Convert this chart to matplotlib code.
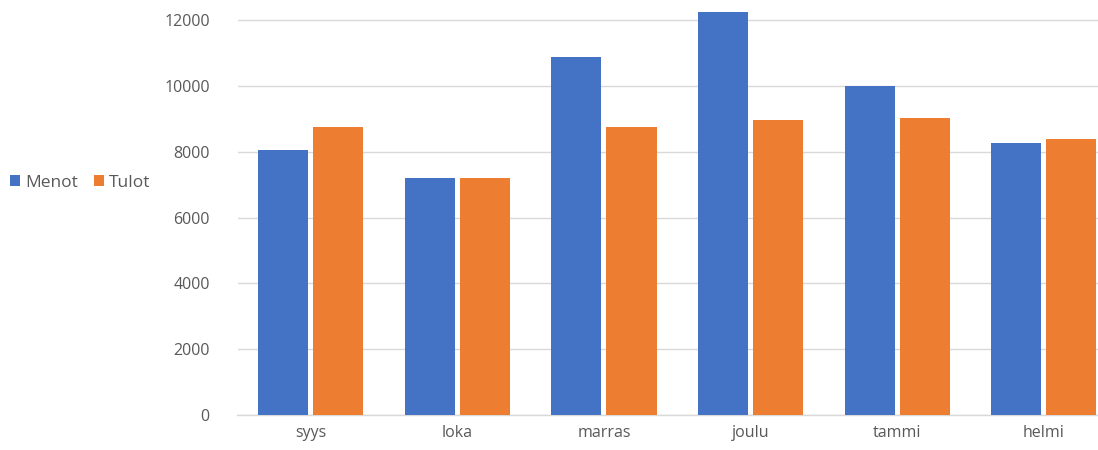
import matplotlib
matplotlib.use("Agg")
import matplotlib.pyplot as plt
import numpy as np
from matplotlib.patches import Patch

categories = ["syys", "loka", "marras", "joulu", "tammi", "helmi"]
menot = [8050, 7220, 10900, 12270, 10000, 8280]
tulot = [8750, 7220, 8750, 8980, 9030, 8380]
yticks = [0, 2000, 4000, 6000, 8000, 10000, 12000]

plt.rcParams['font.family'] = ['Open Sans', 'DejaVu Sans']
blue = "#4472C4"
orange = "#ED7D31"
txt = "#595959"

fig = plt.figure(figsize=(10.98, 4.5), dpi=100)
ax = fig.add_axes([237.5/1098, 35/450, (1117-237.5)/1098, (415-4)/450])

x = np.arange(len(categories))
w = 0.342
gap = 0.034
ax.bar(x - (w + gap)/2, menot, width=w, color=blue, zorder=3)
ax.bar(x + (w + gap)/2, tulot, width=w, color=orange, zorder=3)

ax.set_xlim(-0.5, len(categories) - 0.5)
ax.set_ylim(0, 12500)
ax.set_yticks(yticks)
ax.set_yticklabels([str(v) for v in yticks], fontsize=11.5, color=txt)
ax.set_xticks(x)
ax.set_xticklabels(categories, fontsize=11.5, color=txt)
ax.tick_params(axis='both', length=0)
ax.tick_params(axis='y', pad=20)
ax.tick_params(axis='x', pad=7)
ax.yaxis.grid(True, color="#D9D9D9", linewidth=1, zorder=0)
for s in ["top", "right", "left"]:
    ax.spines[s].set_visible(False)
ax.spines["bottom"].set_color("#D9D9D9")
ax.spines["bottom"].set_linewidth(1)

handles = [Patch(facecolor=blue, label="Menot"), Patch(facecolor=orange, label="Tulot")]
fig.legend(handles=handles, loc="center left", bbox_to_anchor=(0.0, 1 - 183/450),
           ncol=2, frameon=False, fontsize=12.5, handlelength=0.6, handleheight=0.6,
           handletextpad=0.3, columnspacing=0.9, labelcolor=txt, borderaxespad=0.15)

fig.savefig("out.png", dpi=100)
